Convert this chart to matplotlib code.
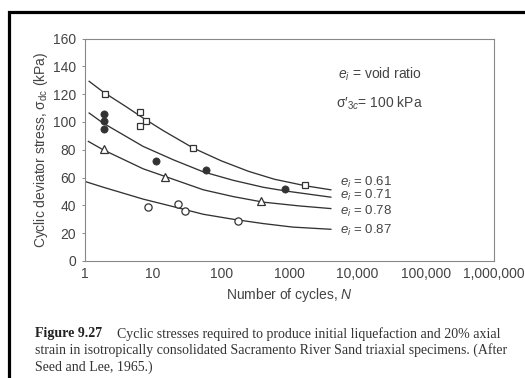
import matplotlib
matplotlib.use("Agg")
import matplotlib.pyplot as plt
from matplotlib.patches import Rectangle

plt.rcParams['font.family'] = ['Liberation Sans', 'DejaVu Sans']
plt.rcParams['mathtext.fontset'] = 'custom'
plt.rcParams['mathtext.rm'] = 'Liberation Sans'
plt.rcParams['mathtext.it'] = 'Liberation Sans:italic'
plt.rcParams['mathtext.bf'] = 'Liberation Sans:bold'

# test points
sq_N = [1.95, 6.5, 6.5, 7.96, 37.8, 1700]
sq_y = [120.4, 106.9, 96.8, 100.4, 81.2, 54.3]
fc_N = [1.9, 1.9, 1.9, 10.96, 59.6, 870]
fc_y = [105.7, 100.4, 94.9, 71.6, 65.6, 51.5]
tri_N = [1.9, 14.8, 380]
tri_y = [80.5, 60.3, 43.0]
oc_N = [8.4, 23.2, 29.2, 177]
oc_y = [39.1, 40.8, 36.0, 29.0]

# fitted curves
c61_N = [1.15, 1.84, 4.0, 7.13, 14.0, 38.8, 100, 250, 600, 1750, 4040]
c61_y = [129.2, 121.6, 111.0, 102.8, 93.8, 81.2, 72.0, 64.5, 58.8, 54.0, 51.2]
c71_N = [1.15, 1.84, 7.13, 19.7, 54.4, 150, 414, 890, 4040]
c71_y = [106.4, 99.2, 82.4, 72.8, 64.1, 58.0, 53.0, 50.3, 45.9]
c78_N = [1.12, 1.84, 7.13, 14.0, 54.4, 150, 414, 1400, 4040]
c78_y = [86.0, 80.0, 66.3, 61.3, 51.2, 46.3, 42.3, 39.6, 37.7]
c87_N = [1.0, 1.84, 7.13, 19.7, 54.4, 150, 414, 1105, 4040]
c87_y = [57.2, 53.1, 44.5, 39.1, 33.6, 30.0, 26.9, 24.4, 22.8]

curve_labels = ['0.61', '0.71', '0.78', '0.87']
label_y = [56.4, 47.0, 35.5, 22.3]

xticks = [1, 10, 100, 1000, 1e4, 1e5, 1e6]
xticklabels = ['1', '10', '100', '1000', '10,000', '100,000', '1,000,000']
yticks = [0, 20, 40, 60, 80, 100, 120, 140, 160]

fig = plt.figure(figsize=(5.25, 3.78), dpi=100)
ax = fig.add_axes([85/525, 117/378, 409/525, 222.5/378])

lc = '#333333'
for N, y in [(c61_N, c61_y), (c71_N, c71_y), (c78_N, c78_y), (c87_N, c87_y)]:
    ax.plot(N, y, color=lc, lw=0.95)

ax.plot(sq_N, sq_y, 's', ms=4.6, mfc='white', mec=lc, mew=0.9)
ax.plot(fc_N, fc_y, 'o', ms=5.2, mfc='#333333', mec=lc, mew=0.5)
ax.plot(tri_N, tri_y, '^', ms=5.2, mfc='white', mec=lc, mew=0.9)
ax.plot(oc_N, oc_y, 'o', ms=5.2, mfc='white', mec=lc, mew=0.9)

for lab, y in zip(curve_labels, label_y):
    ax.text(5430, y, '$e_i$ = ' + lab, fontsize=9.5, color='#444444',
            ha='left', va='center')

fig.text(338/525, 1 - 74/378, '$e_i$ = void ratio',
         fontsize=10, color='#444444', ha='left', va='center')
fig.text(336/525, 1 - 103/378, 'σ′$_{3c}$= 100 kPa',
         fontsize=10, color='#444444', ha='left', va='center')

ax.set_xscale('log')
ax.set_xlim(1, 1e6)
ax.set_ylim(0, 160)
ax.set_xticks(xticks)
ax.set_xticklabels(xticklabels)
ax.minorticks_off()
ax.set_yticks(yticks)
ax.tick_params(axis='x', length=0, pad=4, labelsize=10, labelcolor='#444444')
ax.tick_params(axis='y', length=2.5, width=0.6, color='#777777', pad=4,
               labelsize=10, labelcolor='#444444')
for s in ax.spines.values():
    s.set_color('#888888')
    s.set_linewidth(0.8)

ax.set_xlabel('Number of cycles, $N$', fontsize=10, color='#444444', labelpad=4)
ax.set_ylabel('Cyclic deviator stress, σ$_{\\mathrm{dc}}$ (kPa)', fontsize=10,
              color='#444444', labelpad=2)

# caption
serif = ['Liberation Serif', 'DejaVu Serif']
fig.text(35/525, 1 - 334/378, 'Figure 9.27', family=serif, weight='bold',
         fontsize=10, color='#222222', va='center')
fig.text(117/525, 1 - 334/378,
         'Cyclic stresses required to produce initial liquefaction and 20% axial',
         family=serif, fontsize=10, color='#333333', va='center')
fig.text(35/525, 1 - 350/378,
         'strain in isotropically consolidated Sacramento River Sand triaxial specimens. (After',
         family=serif, fontsize=10, color='#333333', va='center')
fig.text(35/525, 1 - 367/378, 'Seed and Lee, 1965.)',
         family=serif, fontsize=10, color='#333333', va='center')

# outer frame of the scanned figure
fig.patches.append(Rectangle((9/525, -0.1), 1.2, 1 - 11.5/378 + 0.1,
                             transform=fig.transFigure, fill=False,
                             edgecolor='black', linewidth=2.3))

fig.savefig('out.png', dpi=100)
